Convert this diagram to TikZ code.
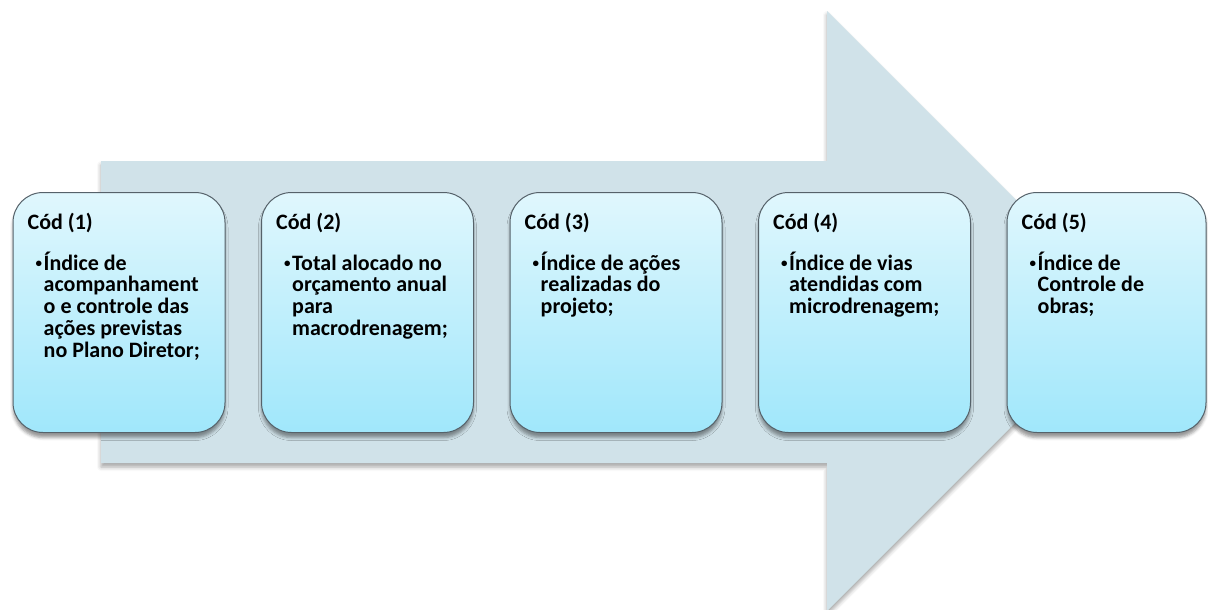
\documentclass[tikz,border=0pt]{standalone}
\usepackage{fontspec}
\setmainfont{Carlito}
\usetikzlibrary{shadows.blur}
\definecolor{arrowfill}{HTML}{D0E2E9}
\definecolor{boxtop}{HTML}{E0F7FD}
\definecolor{boxbot}{HTML}{A0E7FB}
\definecolor{boxedge}{HTML}{56626A}
\newcommand{\boxlines}[1]{\vtop{\baselineskip=21.7pt\lineskiplimit=-100pt\lineskip=0pt\halign{##\hfil\cr#1\crcr}}}
\newcommand{\bul}{\llap{\raisebox{2.5pt}{\fontsize{13}{13}\selectfont •}\kern1.5pt}}
\tikzset{
  stepbox/.style={draw=boxedge, line width=1pt, rounded corners=30pt,
    top color=boxtop, bottom color=boxbot, minimum width=212pt, minimum height=240pt,
    inner sep=0pt,
    blur shadow={shadow xshift=0pt, shadow yshift=-5pt, shadow blur radius=3pt, shadow opacity=40}},
  steptitle/.style={anchor=base west, inner sep=0pt},
  stepbody/.style={anchor=base west, inner sep=0pt},
}
\begin{document}
\begin{tikzpicture}[x=1pt, y=-1pt, font=\bfseries\fontsize{22}{21.7}\selectfont]
\useasboundingbox (0,0) rectangle (1208,610);
% big arrow
\fill[arrowfill, blur shadow={shadow xshift=0pt, shadow yshift=-4pt, shadow blur radius=4pt, shadow opacity=35}]
  (101,161) -- (827,161) -- (827,11) -- (1127,311) -- (827,611) -- (827,463) -- (101,463) -- cycle;
% boxes
\node[stepbox] (b1) at (119,312.5) {};
\node[stepbox] (b2) at (367.5,312.5) {};
\node[stepbox] (b3) at (616,312.5) {};
\node[stepbox] (b4) at (864.5,312.5) {};
\node[stepbox, minimum width=199pt] (b5) at (1106.5,312.5) {};
% titles
\node[steptitle] (t1) at ([shift={(15,37)}]b1.north west) {Cód (1)};
\node[steptitle] (t2) at ([shift={(15,37)}]b2.north west) {Cód (2)};
\node[steptitle] (t3) at ([shift={(15,37)}]b3.north west) {Cód (3)};
\node[steptitle] (t4) at ([shift={(15,37)}]b4.north west) {Cód (4)};
\node[steptitle] (t5) at ([shift={(15,37)}]b5.north west) {Cód (5)};
% bodies
\node[stepbody] (d1) at ([shift={(31,78.2)}]b1.north west)
  {\boxlines{\bul Índice de\cr acompanhament\cr o e controle das\cr ações previstas\cr no Plano Diretor;}};
\node[stepbody] (d2) at ([shift={(31,78.2)}]b2.north west)
  {\boxlines{\bul Total alocado no\cr orçamento anual\cr para\cr macrodrenagem;}};
\node[stepbody] (d3) at ([shift={(31,78.2)}]b3.north west)
  {\boxlines{\bul Índice de ações\cr realizadas do\cr projeto;}};
\node[stepbody] (d4) at ([shift={(31,78.2)}]b4.north west)
  {\boxlines{\bul Índice de vias\cr atendidas com\cr microdrenagem;}};
\node[stepbody] (d5) at ([shift={(31,78.2)}]b5.north west)
  {\boxlines{\bul Índice de\cr Controle de\cr obras;}};
\end{tikzpicture}
\end{document}
